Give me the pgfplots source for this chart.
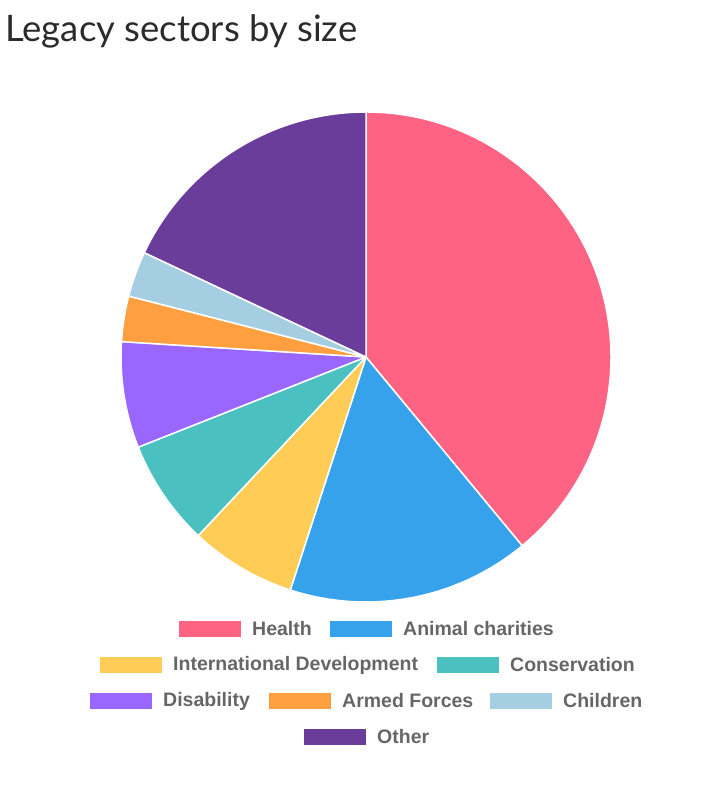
\documentclass[border=0pt]{standalone}
\usepackage{pgfplots}
\usepackage{pgfplotstable}
\pgfplotsset{compat=1.18}
\usepackage{fontspec}
\setmainfont{Liberation Sans}
\newfontfamily\titlefont{Lato}

\definecolor{cHealth}{HTML}{FF6384}
\definecolor{cAnimal}{HTML}{36A2EB}
\definecolor{cIntl}{HTML}{FFCD56}
\definecolor{cCons}{HTML}{4BC0C0}
\definecolor{cDis}{HTML}{9966FF}
\definecolor{cArmed}{HTML}{FF9F40}
\definecolor{cChild}{HTML}{A6CEE3}
\definecolor{cOther}{HTML}{6A3D9A}
\definecolor{legtext}{HTML}{666666}
\definecolor{titletext}{HTML}{2B2B2B}

% share of legacies by sector, percent
\pgfplotstableread{
value col
39 cHealth
16 cAnimal
7  cIntl
7  cCons
7  cDis
3  cArmed
3  cChild
18 cOther
}\sectors

\begin{document}
\begin{tikzpicture}
\useasboundingbox (0,0) rectangle (712pt,799pt);

\node[anchor=base west, font=\titlefont\fontsize{36.5}{42}\selectfont, text=titletext, inner sep=0pt]
  at (5pt,757pt) {Legacy sectors by size};

\begin{axis}[
    at={(366pt,442pt)}, anchor=center,
    width=490pt, height=490pt, scale only axis,
    xmin=-1, xmax=1, ymin=-1, ymax=1,
    hide axis, clip=false,
]
\addplot[draw=none] coordinates {(0,0)};
\pgfplotsextra{
  \gdef\cum{0}
  \pgfplotstablegetrowsof{\sectors}
  \pgfmathtruncatemacro{\last}{\pgfplotsretval-1}
  \foreach \i in {0,...,\last}{
    \pgfplotstablegetelem{\i}{value}\of{\sectors}
    \let\v\pgfplotsretval
    \pgfplotstablegetelem{\i}{col}\of{\sectors}
    \let\c\pgfplotsretval
    \pgfmathsetmacro{\a}{90-3.6*\cum}
    \pgfmathsetmacro{\b}{90-3.6*(\cum+\v)}
    \pgfmathsetmacro{\newcum}{\cum+\v}
    \fill[fill=\c, draw=white, line width=1.5pt, line join=round]
      (axis cs:0,0) -- (axis cs:{cos(\a)},{sin(\a)})
      arc[start angle=\a, end angle=\b, radius=245pt] -- cycle;
    \global\let\cum\newcum
  }
}
\end{axis}

% legend, rows centred as in the original
\foreach \bx/\ty/\c/\lab in {
    179/621/cHealth/Health,
    330/621/cAnimal/Animal charities,
    100/657/cIntl/International Development,
    437/657/cCons/Conservation,
    90/693/cDis/Disability,
    269/693/cArmed/Armed Forces,
    490/693/cChild/Children,
    304/729/cOther/Other}{
  \fill[\c] (\bx pt,{(799-\ty)*1pt}) rectangle ({(\bx+62)*1pt},{(799-\ty-16)*1pt});
  \node[anchor=west, inner sep=0pt, text=legtext, font=\bfseries\fontsize{19.5}{22}\selectfont]
    at ({(\bx+73)*1pt},{(799-\ty-8)*1pt}) {\lab};
}
\end{tikzpicture}
\end{document}
